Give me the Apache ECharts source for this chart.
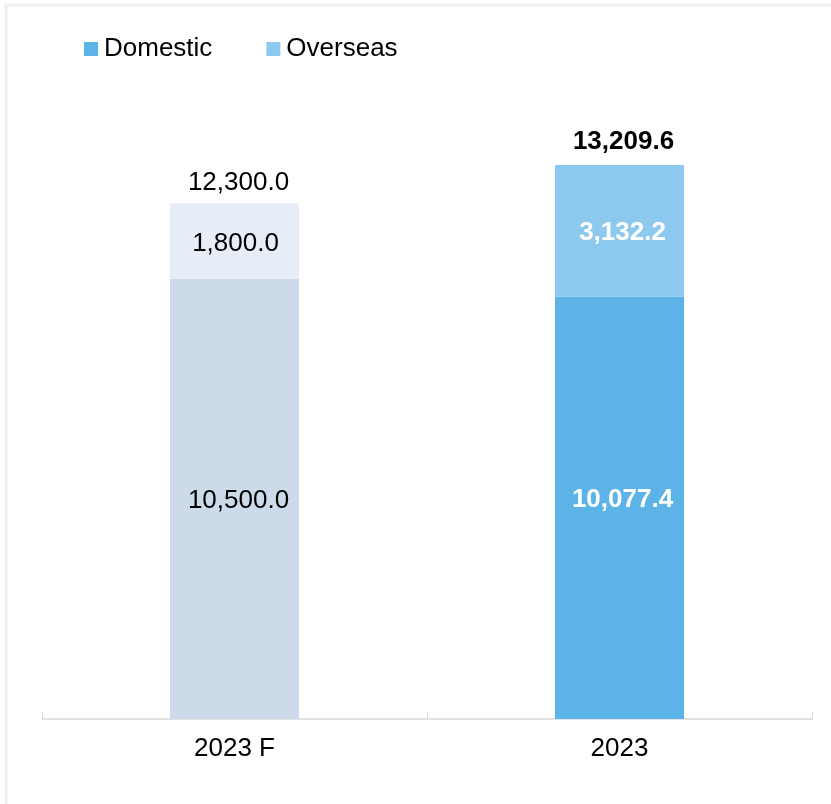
<!DOCTYPE html>
<html>
<head>
<meta charset="utf-8">
<style>
  html, body { margin: 0; padding: 0; background: #ffffff; }
  #chart { width: 831px; height: 804px; }
</style>
<script src="https://cdn.jsdelivr.net/npm/echarts@6/dist/echarts.min.js"></script>
</head>
<body>
<div id="chart"></div>
<script>
// Revenue split by market, forecast vs. actual
const categories = ['2023 F', '2023'];
const domestic = [10500.0, 10077.4];
const overseas = [1800.0, 3132.2];
const totals = [12300.0, 13209.6];

// Forecast bar is drawn in muted tones, the actual bar in brand blues
const domesticColors = ['#CDDAEA', '#5BB3E8'];
const overseasColors = ['#E6EDF6', '#8DC9EE'];

const FONT = '"Liberation Sans", Arial, sans-serif';
const fmt = v => v.toLocaleString('en-US', { minimumFractionDigits: 1, maximumFractionDigits: 1 });

function segmentItems(values, colors, offsets) {
  return values.map((v, i) => ({
    value: v,
    itemStyle: { color: colors[i] },
    label: i === 0
      ? { color: '#000000', fontWeight: 'normal', offset: offsets[i] }
      : { color: '#ffffff', fontWeight: 'bold', offset: offsets[i] }
  }));
}

const chart = echarts.init(document.getElementById('chart'), null, { renderer: 'canvas' });

chart.setOption({
  animation: false,
  backgroundColor: '#ffffff',
  graphic: [{
    type: 'rect',
    shape: { x: 6, y: 5, width: 1000, height: 1000 },
    style: { fill: 'none', stroke: '#efefef', lineWidth: 3 },
    silent: true,
    z: 0
  }],
  legend: {
    left: 79,
    top: 31,
    itemWidth: 14,
    itemHeight: 14,
    itemGap: 54,
    icon: 'rect',
    textStyle: { fontFamily: FONT, fontSize: 26, color: '#000000', padding: [0, 0, 0, 1] },
    data: [
      { name: 'Domestic', itemStyle: { color: '#5BB3E8' } },
      { name: 'Overseas', itemStyle: { color: '#8DC9EE' } }
    ]
  },
  grid: { left: 42, right: 19, top: 90, bottom: 85, containLabel: false },
  xAxis: {
    type: 'category',
    data: categories,
    axisLine: { show: true, lineStyle: { color: '#d9d9d9', width: 1.5 } },
    axisTick: { show: true, inside: true, length: 7, lineStyle: { color: '#d9d9d9' } },
    axisLabel: { fontFamily: FONT, fontSize: 26, color: '#000000', margin: 17 }
  },
  yAxis: {
    type: 'value',
    min: 0,
    max: 15000,
    show: false,
    splitLine: { show: false }
  },
  series: [
    {
      name: 'Domestic',
      type: 'bar',
      stack: 'total',
      barWidth: 129,
      data: segmentItems(domestic, domesticColors, [[4, 2], [3, -8]]),
      label: {
        show: true,
        position: 'inside',
        fontFamily: FONT,
        fontSize: 26,
        formatter: p => fmt(p.value)
      }
    },
    {
      name: 'Overseas',
      type: 'bar',
      stack: 'total',
      barWidth: 129,
      data: segmentItems(overseas, overseasColors, [[1, 3], [3, 2]]),
      label: {
        show: true,
        position: 'inside',
        fontFamily: FONT,
        fontSize: 26,
        formatter: p => fmt(p.value)
      }
    },
    {
      // Invisible total bars carry the figure shown above each stack
      name: 'Total',
      type: 'bar',
      barWidth: 129,
      barGap: '-100%',
      z: 1,
      silent: true,
      itemStyle: { color: 'rgba(0,0,0,0)' },
      data: totals.map((v, i) => ({
        value: v,
        label: { fontWeight: i === 0 ? 'normal' : 'bold', offset: i === 0 ? [4, 3] : [4, 0] }
      })),
      label: {
        show: true,
        position: 'top',
        distance: 10,
        fontFamily: FONT,
        fontSize: 26,
        color: '#000000',
        formatter: p => fmt(p.value)
      }
    }
  ]
});
</script>
</body>
</html>
